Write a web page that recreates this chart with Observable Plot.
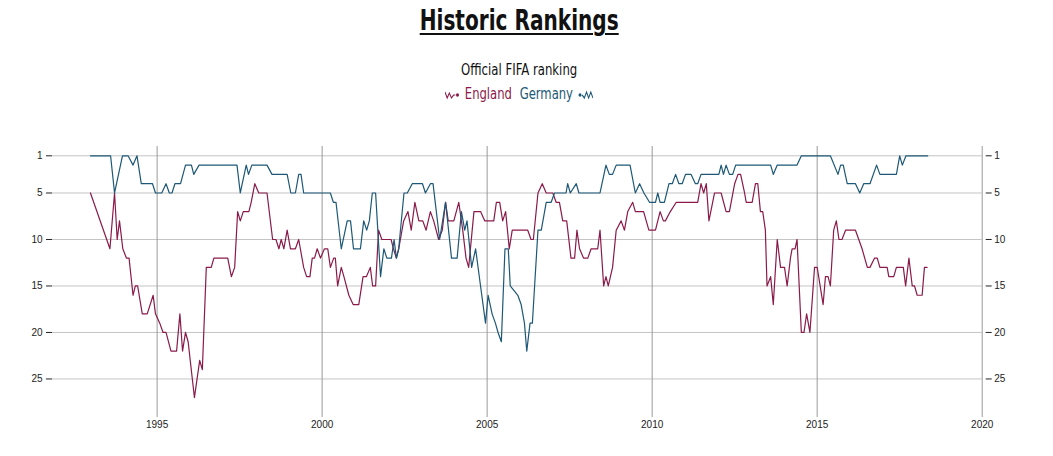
<!DOCTYPE html>
<html>
<head>
<meta charset="utf-8">
<script src="https://cdn.jsdelivr.net/npm/d3@7"></script>
<script src="https://cdn.jsdelivr.net/npm/@observablehq/plot@0.6"></script>
<style>
html,body{margin:0;padding:0;background:#fff;}
body{width:1053px;height:456px;overflow:hidden;position:relative;font-family:"Liberation Sans Narrow","DejaVu Sans Condensed","Liberation Sans",sans-serif;color:#111;}
.row{position:absolute;left:0;width:1038px;text-align:center;white-space:nowrap;}
.sq{display:inline-block;transform-origin:center;}
#title{top:0;height:40px;line-height:40px;font-size:29px;font-weight:bold;}
#title .sq{transform:scaleX(0.77);text-decoration:underline;text-decoration-thickness:2px;text-underline-offset:3px;}
#subtitle{top:60px;height:20px;line-height:20px;font-size:15.5px;}
#subtitle .sq{transform:scaleX(0.84);}
#legend{top:84px;height:20px;line-height:20px;font-size:15px;}
#legend .sq{transform:scaleX(0.86);}
#legend svg{vertical-align:middle;}
#chart{position:absolute;left:0;top:110px;}
</style>
</head>
<body>
<div id="title" class="row"><span class="sq">Historic Rankings</span></div>
<div id="subtitle" class="row"><span class="sq">Official FIFA ranking</span></div>
<div id="legend" class="row"><span class="sq" id="legendInner"></span></div>
<div id="chart"></div>
<script>
// ---- data (decimal year, FIFA rank) ----
const seriesNames = ["England", "Germany"];
const seriesColors = ["#8a1a4a", "#1d5876"];

const englandYear = [1992.98,1993.57,1993.71,1993.79,1993.86,1993.96,1994.07,1994.15,1994.27,1994.34,1994.41,1994.55,1994.70,1994.88,1994.95,1995.08,1995.18,1995.27,1995.42,1995.59,1995.69,1995.77,1995.86,1995.94,1996.13,1996.29,1996.37,1996.49,1996.64,1996.72,1997.14,1997.25,1997.35,1997.44,1997.52,1997.61,1997.78,1997.85,1997.96,1998.08,1998.33,1998.50,1998.60,1998.69,1998.76,1998.84,1998.94,1999.04,1999.19,1999.29,1999.44,1999.53,1999.63,1999.70,1999.77,1999.85,1999.95,2000.07,2000.17,2000.25,2000.35,2000.40,2000.47,2000.58,2000.66,2000.81,2000.94,2001.11,2001.24,2001.34,2001.46,2001.53,2001.62,2001.71,2001.81,2002.09,2002.16,2002.25,2002.32,2002.47,2002.60,2002.70,2002.81,2002.93,2003.05,2003.15,2003.28,2003.38,2003.53,2003.64,2003.74,2003.82,2003.99,2004.14,2004.26,2004.36,2004.44,2004.60,2004.80,2004.93,2005.20,2005.28,2005.38,2005.47,2005.56,2005.67,2005.76,2006.23,2006.33,2006.40,2006.54,2006.67,2006.79,2006.99,2007.09,2007.19,2007.29,2007.41,2007.54,2007.65,2007.72,2007.80,2007.92,2008.05,2008.15,2008.35,2008.42,2008.53,2008.60,2008.67,2008.80,2008.91,2009.06,2009.16,2009.26,2009.41,2009.49,2009.74,2009.90,2010.10,2010.24,2010.34,2010.40,2010.55,2010.73,2011.38,2011.48,2011.56,2011.64,2011.72,2011.89,2012.09,2012.24,2012.34,2012.50,2012.60,2012.68,2012.80,2012.85,2013.03,2013.13,2013.20,2013.28,2013.35,2013.43,2013.48,2013.59,2013.67,2013.79,2013.89,2014.01,2014.09,2014.19,2014.24,2014.33,2014.39,2014.52,2014.60,2014.68,2014.78,2014.92,2015.00,2015.18,2015.25,2015.33,2015.40,2015.50,2015.58,2015.66,2015.75,2015.86,2016.16,2016.26,2016.36,2016.52,2016.60,2016.74,2016.82,2016.90,2017.12,2017.17,2017.32,2017.40,2017.61,2017.68,2017.78,2017.88,2017.95,2018.03,2018.18,2018.25,2018.33];
const englandRank = [5,11,5,10,8,11,12,12,16,15,15,18,18,16,18,19,20,20,22,22,18,22,20,21,27,23,24,13,13,12,12,14,13,7,8,7,7,6,4,5,5,10,10,11,10,11,9,11,11,10,13,14,14,12,12,11,12,11,11,13,12,12,15,13,14,16,17,17,14,14,13,15,15,9,10,10,11,12,11,8,7,9,6,8,8,9,7,8,10,9,6,8,8,6,9,12,13,7,7,8,8,6,6,8,7,11,9,9,10,10,5,4,5,5,6,6,8,8,12,12,9,11,12,12,11,11,9,15,14,15,13,9,8,9,7,6,7,7,9,9,7,8,8,7,6,6,4,5,4,8,5,5,7,7,4,3,3,5,6,6,4,4,7,7,9,15,14,17,10,13,13,15,12,11,11,10,20,20,18,20,13,13,17,14,14,15,9,8,10,10,9,9,10,11,13,13,12,12,13,13,14,14,13,13,15,12,15,15,16,16,13,13];

const germanyYear = [1992.98,1993.59,1993.71,1993.95,1994.12,1994.27,1994.39,1994.52,1994.86,1994.95,1995.14,1995.27,1995.37,1995.45,1995.54,1995.71,1995.86,1996.04,1996.11,1996.27,1997.42,1997.52,1997.70,1997.77,1997.87,1998.33,1998.48,1998.94,1999.05,1999.19,1999.29,1999.36,1999.44,2000.25,2000.34,2000.42,2000.58,2000.76,2000.86,2000.95,2001.16,2001.26,2001.35,2001.43,2001.52,2001.62,2001.77,2001.87,2001.96,2002.10,2002.18,2002.25,2002.32,2002.48,2002.58,2002.73,2003.04,2003.13,2003.28,2003.36,2003.56,2003.74,2003.92,2004.09,2004.22,2004.32,2004.39,2004.53,2004.65,2004.80,2004.95,2005.03,2005.15,2005.25,2005.33,2005.43,2005.54,2005.64,2005.70,2005.93,2006.03,2006.13,2006.20,2006.30,2006.37,2006.54,2006.64,2006.79,2006.94,2007.04,2007.39,2007.44,2007.52,2007.70,2007.78,2008.42,2008.60,2008.70,2008.80,2008.91,2009.33,2009.49,2009.62,2009.75,2009.92,2010.10,2010.17,2010.24,2010.37,2010.51,2010.61,2010.71,2010.81,2010.91,2011.01,2011.18,2011.31,2011.38,2011.48,2012.02,2012.09,2012.16,2012.24,2012.34,2012.44,2012.53,2013.59,2013.67,2013.79,2014.39,2014.52,2015.40,2015.63,2015.71,2015.79,2015.91,2016.16,2016.29,2016.41,2016.60,2016.80,2016.90,2017.40,2017.50,2017.58,2017.69,2018.35];
const germanyRank = [1,1,5,1,1,2,1,4,4,5,5,4,5,5,4,4,2,2,3,2,2,5,2,3,2,2,3,3,5,5,3,3,5,5,6,6,11,8,8,11,11,8,9,8,5,5,14,11,12,12,10,12,11,5,5,4,4,5,4,4,10,6,12,12,7,9,8,13,11,15,19,16,18,19,20,21,11,11,15,16,17,19,22,19,19,9,9,6,6,5,5,4,5,4,5,5,2,3,3,2,2,5,4,5,6,6,5,6,6,4,4,3,4,4,3,3,4,4,3,3,2,3,2,3,3,2,2,3,2,2,1,1,3,2,2,4,4,5,4,4,2,3,3,1,2,1,1];

const xTicks = [1995, 2000, 2005, 2010, 2015, 2020];
const yTicks = [1, 5, 10, 15, 20, 25];

// ---- build tables ----
const england = englandYear.map((y, i) => ({year: y, rank: englandRank[i]}));
const germany = germanyYear.map((y, i) => ({year: y, rank: germanyRank[i]}));

// ---- legend ----
document.getElementById("legendInner").innerHTML =
  `<svg width="18" height="10" viewBox="0 0 18 10"><polyline points="0,2 2.5,8 5,3 7.5,8 10,5 12,5" fill="none" stroke="${seriesColors[0]}" stroke-width="1.2"/><circle cx="14.5" cy="5" r="1.8" fill="${seriesColors[0]}"/></svg>` +
  `<span style="color:${seriesColors[0]};margin-left:5px">${seriesNames[0]}</span>` +
  `<span style="color:${seriesColors[1]};margin-left:9px">${seriesNames[1]}</span>` +
  `<svg width="18" height="10" viewBox="0 0 18 10" style="margin-left:5px"><circle cx="3" cy="5" r="1.8" fill="${seriesColors[1]}"/><polyline points="5.5,5 8,8 10.5,2 13,8 15.5,2 18,8" fill="none" stroke="${seriesColors[1]}" stroke-width="1.2"/></svg>`;

// ---- chart ----
const chart = Plot.plot({
  width: 1053,
  height: 331,
  marginLeft: 52,
  marginRight: 71.3,
  marginTop: 36,
  marginBottom: 30,
  x: {domain: [1991.83, 2020]},
  y: {domain: [0, 28.5], reverse: true},
  style: {fontFamily: "'Liberation Sans', Arial, sans-serif", fontSize: "10px", color: "#222", background: "transparent"},
  marks: [
    Plot.ruleY(yTicks, {stroke: "#c4c4c4", strokeWidth: 1}),
    Plot.ruleX(xTicks, {stroke: "#9a9a9a", strokeWidth: 1}),
    Plot.axisX({ticks: xTicks, tickFormat: d => String(d), tickSize: 6, tickPadding: 3, label: null, stroke: "#9a9a9a"}),
    Plot.axisY({ticks: yTicks, anchor: "left", tickSize: 6, tickPadding: 4, label: null, stroke: "#222"}),
    Plot.axisY({ticks: yTicks, anchor: "right", tickSize: 6, tickPadding: 3, label: null, stroke: "#222", dx: 3}),
    Plot.line(england, {x: "year", y: "rank", stroke: seriesColors[0], strokeWidth: 1.2}),
    Plot.line(germany, {x: "year", y: "rank", stroke: seriesColors[1], strokeWidth: 1.2})
  ]
});
document.getElementById("chart").appendChild(chart);
</script>
</body>
</html>
